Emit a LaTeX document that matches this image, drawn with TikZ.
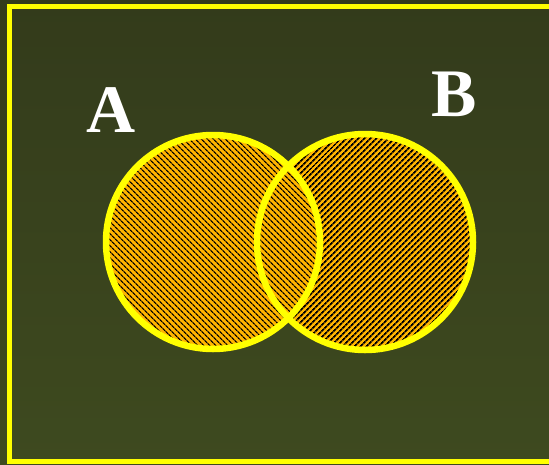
\documentclass[tikz,border=0pt]{standalone}
\usepackage{fontspec}
\setmainfont{Liberation Serif}[BoldFont={Liberation Serif Bold}]
\usetikzlibrary{patterns.meta}
\definecolor{bgtop}{HTML}{333B1B}
\definecolor{bgbot}{HTML}{3E4A1F}
\definecolor{vyellow}{HTML}{FFFF00}
\definecolor{vorange}{HTML}{FFB400}
\tikzset{
  setfill/.style={fill=vorange},
  hatchA/.style={pattern={Lines[angle=-45,distance=4pt,line width=1.3pt]},pattern color=black},
  hatchB/.style={pattern={Lines[angle=45,distance=4pt,line width=1.8pt]},pattern color=black},
  setline/.style={draw=vyellow,line width=6.5pt},
  setlabel/.style={text=white,font=\fontsize{68}{68}\selectfont\bfseries,inner sep=0pt}
}
\begin{document}
\begin{tikzpicture}[x=1pt,y=-1pt]
\useasboundingbox (0,0) rectangle (549,464);
\shade[top color=bgtop,bottom color=bgbot] (0,0) rectangle (549,464);
\begin{scope}
\clip (0,0) rectangle (549,464);
\draw[draw=vyellow,line width=5pt] (9.5,6.5) rectangle (553,461.5);
\end{scope}
% fills
\fill[setfill] (365,242) circle[radius=108];
\fill[hatchB] (365,242) circle[radius=108];
\fill[setfill] (213,242) circle[radius=107];
\fill[hatchA] (213,242) circle[radius=107];
% outlines
\node[setline,circle,minimum size=214pt,inner sep=0pt] (setA) at (213,242) {};
\node[setline,circle,minimum size=216pt,inner sep=0pt] (setB) at (365,242) {};
\node[setlabel] (labA) at (111,110) {A};
\node[setlabel] (labB) at (454,94) {B};
\end{tikzpicture}
\end{document}
